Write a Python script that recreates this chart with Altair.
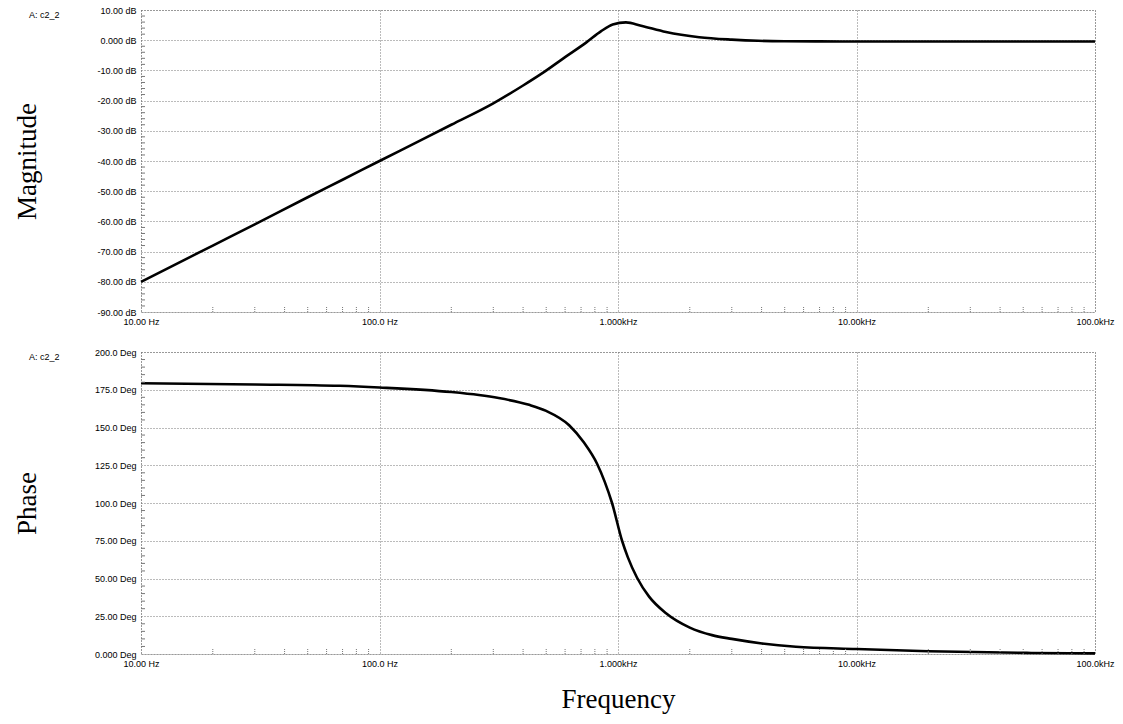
import altair as alt
import pandas as pd

# ---- data ----
freq_mag = [10, 15, 20, 30, 50, 70, 100, 150, 200, 300, 400, 480, 600, 735, 850, 950,
            1080, 1250, 1590, 2190, 3000, 3870, 5000, 7000, 10000, 20000, 50000, 100000]
mag_db = [-80.0, -73.0, -68.0, -61.0, -52.0, -46.2, -40.0, -33.0, -28.0, -20.9, -15.0, -11.0,
          -5.6, -0.8, 3.0, 5.2, 5.9, 4.8, 2.7, 1.0, 0.2, -0.2, -0.35, -0.4, -0.45, -0.45,
          -0.45, -0.45]

freq_ph = [10, 30, 68, 100, 200, 261, 316, 424, 500, 624, 720, 817, 880, 944, 1040, 1100,
           1202, 1350, 1590, 2000, 2478, 3000, 4016, 5570, 10000, 20000, 54000, 100000]
phase_deg = [179.3, 178.5, 177.6, 176.5, 173.5, 171.5, 169.5, 165.0, 161.0, 151.5, 140.0,
             126.0, 114.0, 100.0, 75.0, 64.0, 50.5, 38.0, 27.0, 17.5, 12.5, 10.0, 7.0, 4.8,
             3.3, 1.8, 0.7, 0.4]

x_ticks = [10, 100, 1000, 10000, 100000]
x_labels = ["10.00 Hz", "100.0 Hz", "1.000kHz", "10.00kHz", "100.0kHz"]
minor_x = [k * 10 ** d for d in range(1, 5) for k in range(2, 10)]

mag_ticks = [10, 0, -10, -20, -30, -40, -50, -60, -70, -80, -90]
mag_labels = ["10.00 dB", "0.000 dB", "-10.00 dB", "-20.00 dB", "-30.00 dB", "-40.00 dB",
              "-50.00 dB", "-60.00 dB", "-70.00 dB", "-80.00 dB", "-90.00 dB"]
mag_minor = [v for v in range(-90, 11, 2) if v % 10]

ph_ticks = [200, 175, 150, 125, 100, 75, 50, 25, 0]
ph_labels = ["200.0 Deg", "175.0 Deg", "150.0 Deg", "125.0 Deg", "100.0 Deg", "75.00 Deg",
             "50.00 Deg", "25.00 Deg", "0.000 Deg"]
ph_minor = [v for v in range(0, 201, 5) if v % 25]

W, H = 954, 302
SERIF = "Liberation Serif"


def lab_expr(ticks, labels):
    parts = " : ".join(f"datum.value == {t} ? '{l}'" for t, l in zip(ticks, labels))
    return parts + " : ''"


def panel(freqs, vals, domain, yticks, ylabels, yminor, ytitle, xtitle):
    df = pd.DataFrame({"f": freqs, "v": vals})
    xscale = alt.Scale(type="log", domain=[10, 100000], nice=False)
    yscale = alt.Scale(domain=domain, nice=False, zero=False)
    xaxis_kw = dict(values=x_ticks, labelExpr=lab_expr(x_ticks, x_labels), grid=True,
                    labelPadding=5, labelOverlap=False, labelFlush=False)
    if xtitle:
        xaxis = alt.Axis(title=xtitle, titleFont=SERIF, titleFontSize=27,
                         titleFontWeight="normal", titleColor="black", titlePadding=18,
                         **xaxis_kw)
    else:
        xaxis = alt.Axis(title="", **xaxis_kw)
    yaxis = alt.Axis(values=yticks, labelExpr=lab_expr(yticks, ylabels), grid=True,
                     labelPadding=5, labelOverlap=False, labelFlush=False,
                     title=ytitle, titleFont=SERIF, titleFontSize=27,
                     titleFontWeight="normal", titleColor="black",
                     titleX=-114, titleY=H / 2, titleAlign="center", titleBaseline="middle")
    line = alt.Chart(df).mark_line(color="black", strokeWidth=2.6, interpolate="monotone").encode(
        x=alt.X("f:Q", scale=xscale, axis=xaxis),
        y=alt.Y("v:Q", scale=yscale, axis=yaxis),
    )
    xmin = alt.Chart(pd.DataFrame({"f": minor_x})).mark_rule(
        color="#777", strokeDash=[1, 1], strokeWidth=1).encode(
        x=alt.X("f:Q", scale=xscale, axis=xaxis),
        y=alt.value(H), y2=alt.value(H - 6),
    )
    ymin = alt.Chart(pd.DataFrame({"v": yminor})).mark_rule(
        color="#777", strokeWidth=1).encode(
        y=alt.Y("v:Q", scale=yscale, axis=yaxis),
        x=alt.value(0), x2=alt.value(4),
    )
    tag = alt.Chart(pd.DataFrame({"t": ["A: c2_2"]})).mark_text(
        align="left", baseline="middle", fontSize=9, font="Liberation Sans", color="black").encode(
        text="t:N", x=alt.value(-112), y=alt.value(5),
    )
    return alt.layer(line, xmin, ymin, tag).properties(width=W, height=H)


top = panel(freq_mag, mag_db, [-90, 10], mag_ticks, mag_labels, mag_minor, "Magnitude", None)
bottom = panel(freq_ph, phase_deg, [0, 200], ph_ticks, ph_labels, ph_minor, "Phase", "Frequency")

chart = alt.vconcat(top, bottom, spacing=20).properties(
    padding={"left": 12, "top": 5, "right": 5, "bottom": 5}
).configure_view(
    stroke="#777", strokeDash=[1, 2], strokeWidth=1
).configure_axis(
    labelFont="Liberation Sans", labelFontSize=9, labelColor="black",
    domain=False, ticks=False, gridColor="#777", gridDash=[1, 2], gridWidth=1,
)

chart.save("out.html", embed_options={"renderer": "svg", "actions": False})
